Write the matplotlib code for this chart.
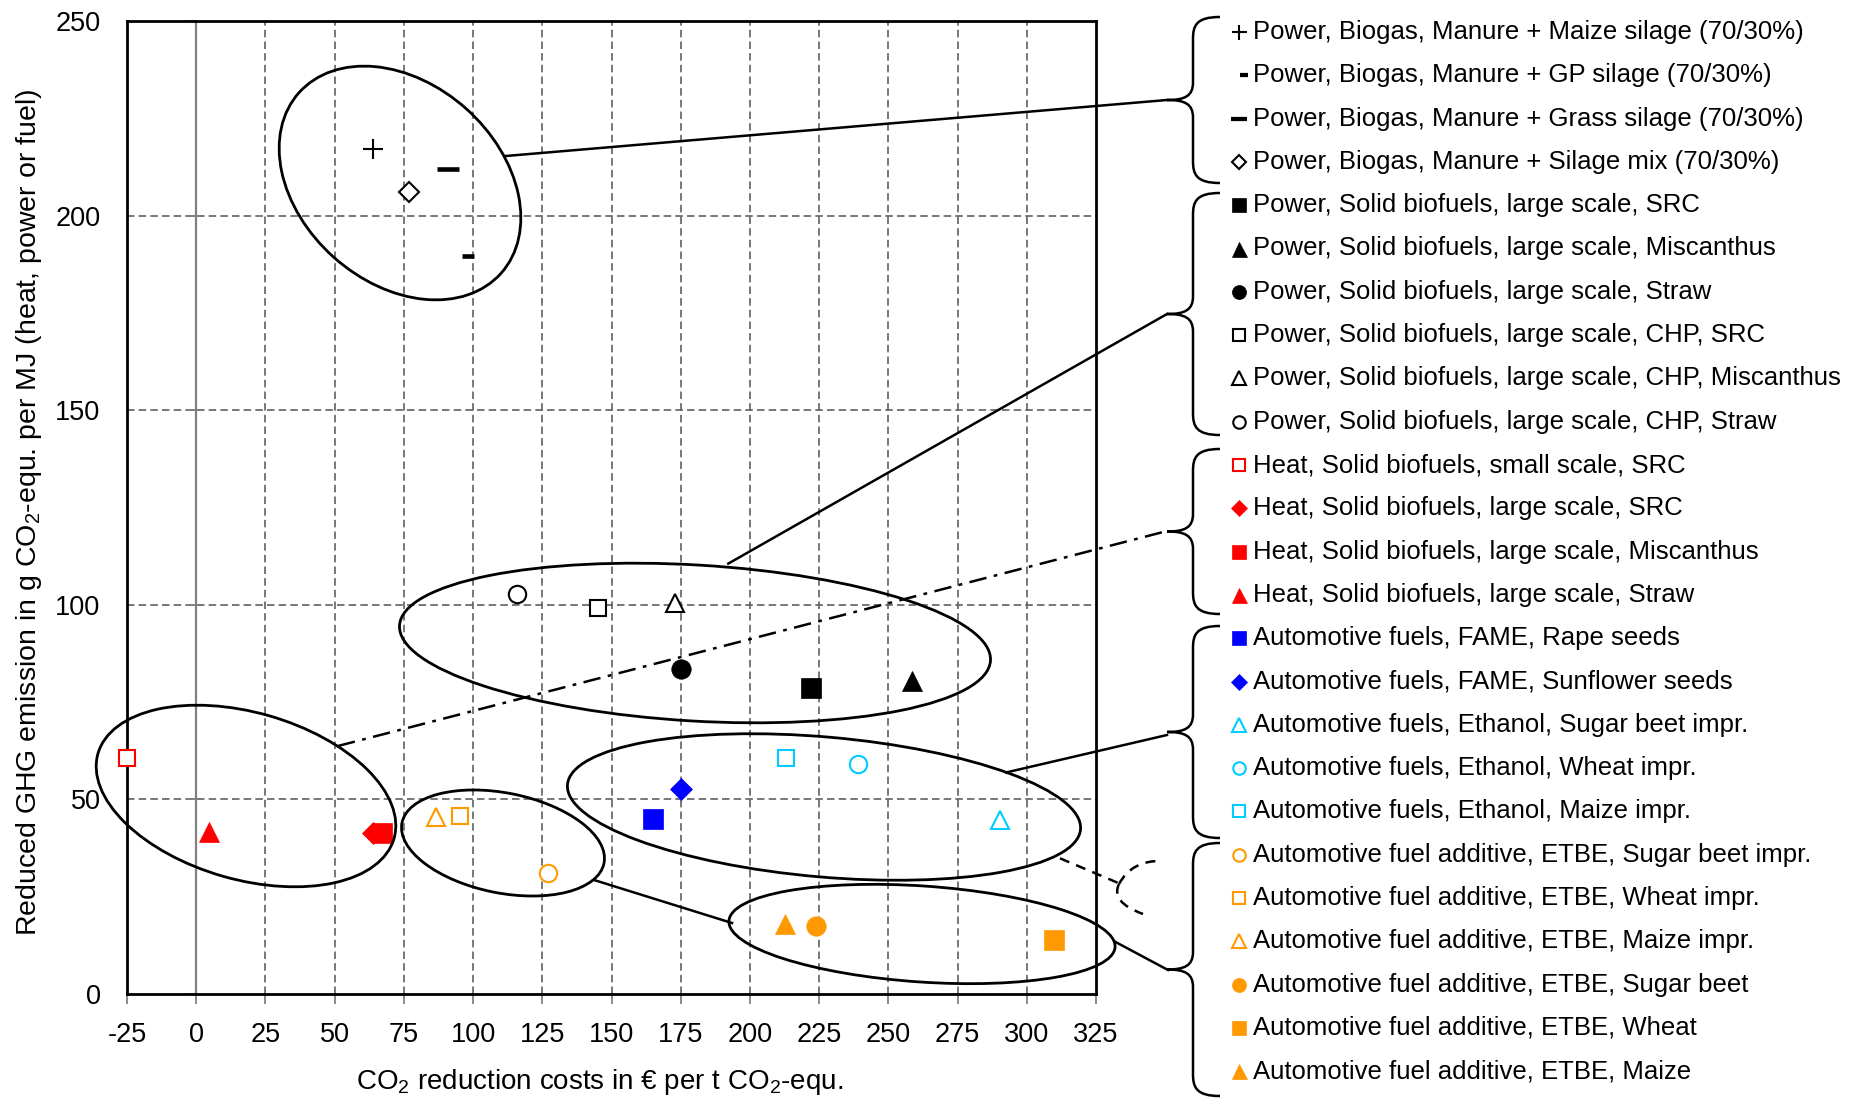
import numpy as np
import matplotlib
matplotlib.use('Agg')
import matplotlib.pyplot as plt
from matplotlib.patches import Ellipse, PathPatch
from matplotlib.path import Path

plt.rcParams['font.family'] = ['Liberation Sans', 'DejaVu Sans']
plt.rcParams['mathtext.fontset'] = 'custom'
plt.rcParams['mathtext.rm'] = 'Liberation Sans'
plt.rcParams['mathtext.it'] = 'Liberation Sans:italic'
plt.rcParams['axes.unicode_minus'] = False

# data
labels = [
    'Power, Biogas, Manure + Maize silage (70/30%)',
    'Power, Biogas, Manure + GP silage (70/30%)',
    'Power, Biogas, Manure + Grass silage (70/30%)',
    'Power, Biogas, Manure + Silage mix (70/30%)',
    'Power, Solid biofuels, large scale, SRC',
    'Power, Solid biofuels, large scale, Miscanthus',
    'Power, Solid biofuels, large scale, Straw',
    'Power, Solid biofuels, large scale, CHP, SRC',
    'Power, Solid biofuels, large scale, CHP, Miscanthus',
    'Power, Solid biofuels, large scale, CHP, Straw',
    'Heat, Solid biofuels, small scale, SRC',
    'Heat, Solid biofuels, large scale, SRC',
    'Heat, Solid biofuels, large scale, Miscanthus',
    'Heat, Solid biofuels, large scale, Straw',
    'Automotive fuels, FAME, Rape seeds',
    'Automotive fuels, FAME, Sunflower seeds',
    'Automotive fuels, Ethanol, Sugar beet impr.',
    'Automotive fuels, Ethanol, Wheat impr.',
    'Automotive fuels, Ethanol, Maize impr.',
    'Automotive fuel additive, ETBE, Sugar beet impr.',
    'Automotive fuel additive, ETBE, Wheat impr.',
    'Automotive fuel additive, ETBE, Maize impr.',
    'Automotive fuel additive, ETBE, Sugar beet',
    'Automotive fuel additive, ETBE, Wheat',
    'Automotive fuel additive, ETBE, Maize',
]
cost = [64, 98, 91, 77, 222, 258.5, 175, 145, 173, 116,
        -25, 64, 67, 4.7, 165, 175, 290.5, 239, 213,
        127, 95.4, 86.5, 224, 310, 212.7]
ghg = [217, 189.5, 212, 206, 78.5, 80.5, 83.5, 99.3, 100.4, 102.8,
       60.7, 41.3, 41.3, 41.6, 45, 52.7, 44.6, 59.2, 60.6,
       31, 45.7, 45.4, 17.4, 13.8, 18]

xticks = list(range(-25, 326, 25))
yticks = list(range(0, 251, 50))

# styles
BLK, RED, BLUE, CYAN, ORA = 'black', '#ff0000', '#0000ff', '#00ccff', '#ff9900'
markers = ['+', '_', '_', 'D', 's', '^', 'o', 's', '^', 'o',
           's', 'D', 's', '^', 's', 'D', '^', 'o', 's',
           'o', 's', '^', 'o', 's', '^']
colors = [BLK] * 10 + [RED] * 4 + [BLUE] * 2 + [CYAN] * 3 + [ORA] * 6
filled = [False, True, True, False, True, True, True, False, False, False,
          False, True, True, True, True, True, False, False, False,
          False, False, False, True, True, True]


def style(i, k):
    m, c, f = markers[i], colors[i], filled[i]
    if m == '+':
        return dict(marker=m, color=c, ms=15 * k, mew=1.5)
    if m == '_':
        return dict(marker=m, color=c, ms=(8 if i == 1 else 16) * k, mew=3.3 * min(1, k + 0.2))
    base = {('s', True): 14, ('s', False): 12, ('o', True): 14, ('o', False): 12.5,
            ('^', True): 15, ('^', False): 13.5, ('D', True): 11, ('D', False): 10.5}[(m, f)]
    if f:
        return dict(marker=m, ms=base * k, mfc=c, mec=c, mew=0.5)
    return dict(marker=m, ms=base * k, mfc='white', mec=c, mew=1.5)


W, H = 1872, 1098
fig = plt.figure(figsize=(W / 100, H / 100), dpi=100)
ax = fig.add_axes([127 / W, 104 / H, 969 / W, 973 / H])
ax.set_xlim(-25, 325)
ax.set_ylim(0, 250)
ax.set_xticks(xticks)
ax.set_yticks(yticks)
ax.tick_params(axis='x', direction='out', length=7, width=1.2, color='#777777',
               labelsize=19.5, pad=13)
ax.tick_params(axis='y', length=0, labelsize=19.5, pad=19)
for s in ax.spines.values():
    s.set_linewidth(2)
for v in xticks[1:-1]:
    if v != 0:
        ax.axvline(v, color='#606060', lw=1.2, ls=(0, (4.5, 2.5)), zorder=1)
for v in yticks[1:-1]:
    ax.axhline(v, color='#606060', lw=1.2, ls=(0, (4.5, 2.5)), zorder=1)
ax.axvline(0, color='#808080', lw=1.6, zorder=1)
for v in yticks:
    ax.plot([-3.3, 0], [v, v], color='#808080', lw=1.4, clip_on=False, zorder=1)

for i in range(len(cost)):
    ax.plot(cost[i], ghg[i], ls='none', clip_on=False, zorder=3, **style(i, 1))

# overlay in figure pixels for annotations, braces and legend
ov = fig.add_axes([0, 0, 1, 1])
ov.set_xlim(0, W)
ov.set_ylim(H, 0)
ov.axis('off')
ov.patch.set_visible(False)

ellipses = [((400, 183), 271, 199, 41.8),
            ((695, 643), 592, 156, 3.4),
            ((246, 796), 308, 167, 16),
            ((503, 843), 206, 100, 11.3),
            ((824, 807), 515, 140, 5),
            ((922, 934), 387, 96, 3.9)]
for c, w, h, a in ellipses:
    ov.add_patch(Ellipse(c, w, h, angle=a, fill=False, ec='black', lw=2))

lk = dict(color='black', lw=1.8)
ov.plot([505.7, 1167], [156, 100], **lk)
ov.plot([728.3, 1167], [563.6, 314], **lk)
ov.plot([337.9, 1167], [746, 531], color='black', lw=1.8, ls=(0, (7, 3, 1.5, 3)))
ov.plot([1006, 1167], [772.5, 735], **lk)
ov.plot([594, 732], [880, 923], **lk)
ov.plot([1115, 1168], [941.7, 970], **lk)
ov.plot([1060, 1119], [858.3, 883.3], color='black', lw=1.8, ls=(0, (4, 3)))
for verts in ([(1119, 884), (1132, 860), (1162, 861)],
              [(1119, 884), (1110, 902), (1143, 914)]):
    ov.add_patch(PathPatch(Path(verts, [Path.MOVETO, Path.CURVE3, Path.CURVE3]),
                           fill=False, ec='black', lw=1.8, ls=(0, (4, 3))))


def brace(y0, y1, xt=1167, xs=1193, xe=1220, r=22):
    ym = (y0 + y1) / 2
    v = [(xe, y0), (xs + 3, y0), (xs, y0 + r * 0.4), (xs, y0 + r),
         (xs, ym - r * 0.8),
         (xs, ym - 4), (xs - 8, ym), (xt, ym),
         (xs - 8, ym), (xs, ym + 4), (xs, ym + r * 0.8),
         (xs, y1 - r),
         (xs, y1 - r * 0.4), (xs + 3, y1), (xe, y1)]
    codes = [Path.MOVETO] + [Path.CURVE4] * 3 + [Path.LINETO] + [Path.CURVE4] * 6 + \
        [Path.LINETO] + [Path.CURVE4] * 3
    ov.add_patch(PathPatch(Path(v, codes), fill=False, ec='black', lw=1.8))


for y0, y1 in [(17, 183), (193, 435), (449, 614), (626, 838), (843, 1096)]:
    brace(y0, y1)

for i, lab in enumerate(labels):
    y = 32 + 43.3 * i
    xm = 1244 if i == 1 else 1239
    ov.plot(xm, y, ls='none', **style(i, 0.72))
    ov.text(1253, y, lab, fontsize=18.5, va='center', ha='left')

ov.text(600, 1082, r'CO$_\mathregular{2}$ reduction costs in € per t CO$_\mathregular{2}$-equ.',
        fontsize=20, ha='center', va='center')
ov.text(29, 512, r'Reduced GHG emission in g CO$_\mathregular{2}$-equ. per MJ (heat, power or fuel)',
        fontsize=20.5, ha='center', va='center', rotation=90)

fig.savefig('out.png', dpi=100)
